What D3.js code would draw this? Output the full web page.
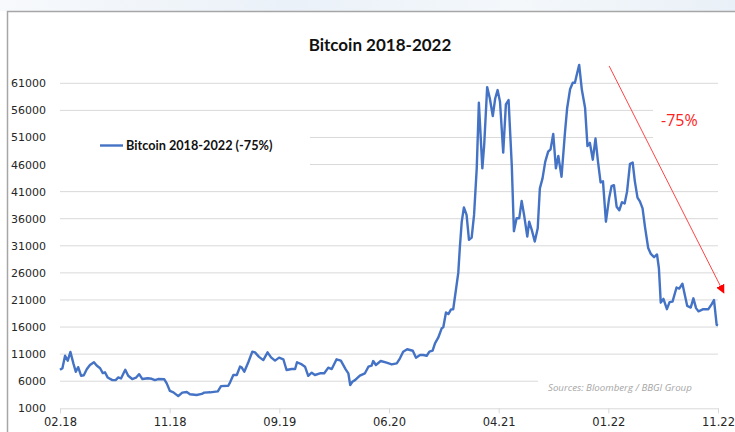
<!DOCTYPE html>
<html>
<head>
<meta charset="utf-8">
<script src="https://cdn.jsdelivr.net/npm/d3@7"></script>
<style>
  html, body { margin: 0; padding: 0; background: #fff; }
  svg { display: block; }
</style>
</head>
<body>
<svg id="chart" width="735" height="432"></svg>
<script>
// weekly positions counted from the first axis label (02.18)
const weeks = [
  0, 0.9, 1.9, 2.9, 3.9, 5.0, 5.9, 6.8, 7.9, 8.9, 10.0, 11.2, 12.7, 13.7, 15.0, 16.0, 16.8, 17.8, 19.6, 20.8,
  21.8, 22.8, 24.4, 25.5, 27.0, 28.4, 29.6, 30.8, 32.8, 34.3, 35.5, 36.7, 39.0, 39.9, 41.1, 42.4, 44.2, 45.7, 47.4, 48.6,
  51.1, 53.0, 53.9,
  56.1, 59.0, 60.2, 62.9, 63.6, 64.8, 66.1, 67.3, 67.9, 68.9, 70.4, 71.9, 72.9, 74.4, 76.0, 77.6, 78.9, 80.4, 81.9, 83.5,
  84.7, 86.6, 87.9, 88.6, 90.4, 91.6, 92.8, 94.1, 95.3, 97.2, 98.8, 100.3, 101.6, 103.4, 105.0, 106.8, 107.8, 108.5, 109.3, 110.3,
  112.1, 114.0, 115.3, 116.5, 117.1, 118.1, 119.9, 122.1, 124.0, 125.9, 127.1, 128.3, 129.8, 131.9, 133.1, 134.6, 135.8, 137.1, 138.1, 139.3,
  140.2, 141.4, 142.7, 143.3, 144.3, 145.2, 146.2, 147.0, 148.0, 148.9, 149.5, 150.2, 151.0, 152.0, 152.9,
  153.9, 154.8, 155.8, 156.6, 157.9, 158.6, 159.7, 160.7, 161.8, 162.7, 163.6, 164.5, 165.7, 166.7, 167.7, 168.9, 169.7, 170.7, 171.7, 172.6,
  173.5, 174.7, 175.4, 176.4, 177.5, 178.6, 179.4, 180.4, 181.4, 182.5, 183.4, 184.4, 185.4, 186.3, 187.5,
  188.8, 189.6, 190.7, 191.7, 192.5, 193.4, 194.1, 195.1, 196.3, 197.2, 198.1, 199.2, 200.2, 201.1, 202.1, 203.0, 204.1, 205.3, 206.2, 207.1,
  208.1, 209.1, 210.1, 211.1, 212.0, 213.1, 214.1, 214.9, 215.9, 216.8, 217.8, 218.7, 219.9, 220.9, 222.1, 223.2, 223.9, 224.6, 225.6, 226.9,
  227.9, 229.0, 230.5, 231.5, 232.7, 233.6, 234.5, 235.8, 236.8, 237.8, 238.7, 240.5, 242.4, 243.6, 244.5, 245.5, 246.0
]

// Bitcoin price (USD)
const prices = [
  8100, 8400, 10700, 9800, 11400, 9300, 7750, 8600, 7000, 7100, 8200, 9000, 9500, 8900, 8400, 7500, 7650, 6700, 6200, 6200,
  6700, 6500, 8100, 7000, 6400, 6650, 7300, 6400, 6550, 6450, 6200, 6400, 6350, 5600, 4200, 3950, 3250, 3900, 4000, 3600,
  3450, 3650, 3900,
  3950, 4130, 5100, 5170, 5800, 7150, 7150, 8700, 8570, 7760, 9500, 11450, 11330, 10500, 9900, 11330, 10400, 9800, 10350, 10050,
  8070, 8250, 8250, 9500, 9100, 8680, 7000, 7570, 7150, 7460, 7460, 8500, 8250, 10050, 9800, 8200, 7460, 5300, 5900, 6200,
  7020, 7460, 8680, 8870, 9730, 9000, 9730, 9420, 9100, 9300, 10230, 11450, 11900, 11630, 10350, 10840, 10840, 10700, 11450, 11630,
  13000, 14030, 15770, 15950, 18700, 18400, 19270, 19270, 22800, 26000, 30800, 35450, 38100, 36700, 32100,
  32500, 36700, 45300, 57400, 45300, 49700, 60300, 58200, 54950, 58200, 59750, 57600, 48200, 57100, 57900, 45900, 33700, 36100, 36100, 39300,
  36700, 32700, 35450, 33900, 31800, 34250, 41600, 43450, 46500, 48400, 48800, 51650, 45300, 47600, 43750,
  52000, 56400, 59900, 61100, 61100, 63000, 64400, 59800, 56500, 49400, 50000, 46900, 50800, 46700, 42700, 42900, 35450, 39800, 42000, 42200,
  38220, 37550, 39050, 38800, 41000, 46150, 46370, 42950, 39900, 39200, 37900, 34500, 30600, 29500, 28900, 29400, 26900, 20500, 21200, 19300,
  20600, 20700, 23300, 23100, 24000, 21900, 19900, 19600, 21300, 19500, 18900, 19300, 19300, 20200, 21000, 16400, 16300
]

const yTicks = [1000, 6000, 11000, 16000, 21000, 26000, 31000, 36000, 41000, 46000, 51000, 56000, 61000]
const tickWeeks = [0, 41, 82, 123, 164, 205, 246]
const tickLabels = ['02.18', '11.18', '09.19', '06.20', '04.21', '01.22', '11.22']

// -75% arrow, from the peak area down to the latest level
const arrowFrom = [205.3, 64200]
const arrowTo = [248.2, 22300]
const arrowLabelAt = [224.7, 54200]

const blue = '#4472c4'
const grid = '#d9d9d9'

const svg = d3.select('#chart')
const x = d3.scaleLinear().domain([0, 246]).range([60, 718])
const y = d3.scaleLinear().domain([1000, 61000]).range([408.3, 83.3])

// faint page background above the frame
const defs = svg.append('defs')
const bg = defs.append('linearGradient').attr('id', 'topbg')
bg.append('stop').attr('offset', '0%').attr('stop-color', '#f7f9fc')
bg.append('stop').attr('offset', '40%').attr('stop-color', '#eaf1f8')
bg.append('stop').attr('offset', '70%').attr('stop-color', '#f4f8fb')
bg.append('stop').attr('offset', '100%').attr('stop-color', '#e9f0f7')
svg.append('rect').attr('x', 0).attr('y', 0).attr('width', 735).attr('height', 11)
  .attr('fill', 'url(#topbg)')

svg.append('path')
  .attr('d', 'M7.5,432 V11.5 H735')
  .attr('fill', 'none')
  .attr('stroke', '#a6a6a6')
  .attr('stroke-width', 1.5)

svg.append('text')
  .attr('x', 380).attr('y', 51)
  .attr('text-anchor', 'middle')
  .style('font', 'bold 17px Lato, "DejaVu Sans", sans-serif')
  .attr('fill', '#111')
  .text('Bitcoin 2018-2022')

// gridlines
svg.append('g')
  .selectAll('line')
  .data(yTicks.slice(1))
  .enter().append('line')
    .attr('x1', x(0)).attr('x2', x(246))
    .attr('y1', d => y(d)).attr('y2', d => y(d))
    .attr('stroke', grid)
    .attr('stroke-width', 1)

// y labels
const yAxis = d3.axisLeft(y).tickValues(yTicks).tickFormat(d3.format('d')).tickSize(0).tickPadding(0)
svg.append('g')
  .attr('transform', 'translate(46,0)')
  .call(yAxis)
  .call(g => g.select('.domain').remove())
  .call(g => g.selectAll('text')
    .style('font', '11px "DejaVu Sans", Verdana, sans-serif')
    .attr('fill', '#262626'))

// x axis
const xAxis = d3.axisBottom(x)
  .tickValues(tickWeeks)
  .tickFormat((d, i) => tickLabels[i])
  .tickSizeInner(5).tickSizeOuter(0).tickPadding(5)
svg.append('g')
  .attr('transform', `translate(0,${y(1000)})`)
  .call(xAxis)
  .call(g => g.select('.domain').attr('stroke', grid))
  .call(g => g.selectAll('.tick line').attr('stroke', grid))
  .call(g => g.selectAll('text')
    .style('font', '11.5px "DejaVu Sans", Verdana, sans-serif')
    .attr('fill', '#262626'))

// white boxes behind the legend, the label and the source note
svg.append('rect').attr('x', 56).attr('y', 128).attr('width', 254).attr('height', 45).attr('fill', '#fff')
svg.append('rect').attr('x', 653).attr('y', 100).attr('width', 70).attr('height', 40).attr('fill', '#fff')
svg.append('rect').attr('x', 538).attr('y', 375).attr('width', 182).attr('height', 22).attr('fill', '#fff')

const line = d3.line()
  .x((d, i) => x(weeks[i]))
  .y(d => y(d))

svg.append('path')
  .datum(prices)
  .attr('d', line)
  .attr('fill', 'none')
  .attr('stroke', blue)
  .attr('stroke-width', 2.4)
  .attr('stroke-linejoin', 'round')

// legend
svg.append('line')
  .attr('x1', 100).attr('x2', 123).attr('y1', 145.5).attr('y2', 145.5)
  .attr('stroke', blue).attr('stroke-width', 2.4)
svg.append('text')
  .attr('x', 126).attr('y', 150)
  .style('font', 'bold 12.7px Lato, "DejaVu Sans", sans-serif')
  .attr('fill', '#111')
  .text('Bitcoin 2018-2022 (-75%)')

// arrow annotation
defs.append('marker')
  .attr('id', 'head')
  .attr('viewBox', '0 0 10 10')
  .attr('refX', 9).attr('refY', 5)
  .attr('markerWidth', 9).attr('markerHeight', 9)
  .attr('markerUnits', 'userSpaceOnUse')
  .attr('orient', 'auto')
  .append('path').attr('d', 'M0,0 L10,5 L0,10 z').attr('fill', '#ff0000')

svg.append('line')
  .attr('x1', x(arrowFrom[0])).attr('y1', y(arrowFrom[1]))
  .attr('x2', x(arrowTo[0])).attr('y2', y(arrowTo[1]))
  .attr('stroke', '#ff3030').attr('stroke-width', 0.9)
  .attr('marker-end', 'url(#head)')

svg.append('text')
  .attr('x', x(arrowLabelAt[0])).attr('y', y(arrowLabelAt[1]) + 6)
  .style('font', '16px "Open Sans", sans-serif')
  .attr('fill', '#ff2020')
  .text('-75%')

svg.append('text')
  .attr('x', 548).attr('y', 391)
  .style('font', 'italic 9.7px "Open Sans", sans-serif')
  .attr('fill', '#a6a6a6')
  .text('Sources: Bloomberg / BBGI Group')
</script>
</body>
</html>
